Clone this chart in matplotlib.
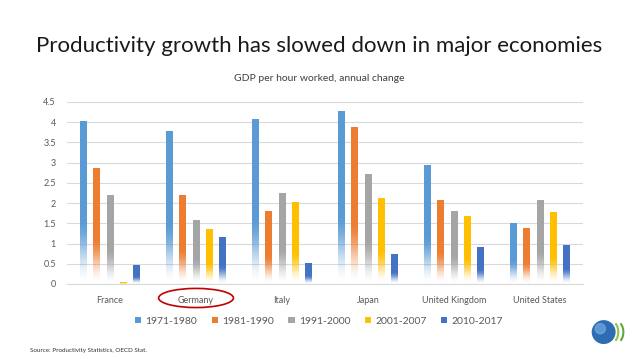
import numpy as np
import matplotlib.pyplot as plt
from matplotlib.patches import Patch, Ellipse, Circle, Arc
from matplotlib.colors import to_rgb
import matplotlib.transforms as mtransforms

plt.rcParams['font.family'] = ['Lato', 'DejaVu Sans']

# data
countries = ['France', 'Germany', 'Italy', 'Japan', 'United Kingdom', 'United States']
periods = ['1971-1980', '1981-1990', '1991-2000', '2001-2007', '2010-2017']
v_1971 = [4.03, 3.78, 4.08, 4.28, 2.93, 1.50]
v_1981 = [2.87, 2.20, 1.80, 3.88, 2.08, 1.38]
v_1991 = [2.20, 1.57, 2.25, 2.73, 1.80, 2.08]
v_2001 = [0.05, 1.37, 2.03, 2.13, 1.68, 1.78]
v_2010 = [0.47, 1.15, 0.53, 0.75, 0.92, 0.97]
series = [v_1971, v_1981, v_1991, v_2001, v_2010]
farben = ['#5B9BD5', '#ED7D31', '#A5A5A5', '#FFC000', '#4472C4']

fig = plt.figure(figsize=(6.38, 3.59), dpi=100)
ax = fig.add_axes([0.105, 0.209, 0.809, 0.507])

x = np.arange(len(countries))
pitch = 0.155
breite = 0.08

def gradient_bar(ax, patch, farbe):
    # Excel-like gradient: solid at top, fading to white at the bottom
    bb = patch.get_bbox()
    n = 200
    rgb = to_rgb(farbe)
    t = np.linspace(0, 1, n)  # 0 = bottom, 1 = top
    s = np.clip(t / 0.4, 0, 1)
    alpha = s * s * (3 - 2 * s)
    img = np.zeros((n, 1, 4))
    img[:, 0, :3] = rgb
    img[:, 0, 3] = alpha
    im = ax.imshow(img, extent=(bb.x0, bb.x1, bb.y0, bb.y1), origin='lower',
                   aspect='auto', interpolation='bilinear', zorder=3)
    im.set_clip_path(patch)

for i, (werte, farbe) in enumerate(zip(series, farben)):
    bars = ax.bar(x + (i - 2) * pitch, werte, width=breite, color='none',
                  edgecolor='none', zorder=3)
    for p in bars.patches:
        gradient_bar(ax, p, farbe)

ax.set_xlim(-0.5, len(countries) - 0.5)
ax.set_ylim(0, 4.5)
ax.set_yticks(np.arange(0, 4.51, 0.5))
ax.set_yticklabels(['0', '0.5', '1', '1.5', '2', '2.5', '3', '3.5', '4', '4.5'])
ax.set_xticks(x)
ax.set_xticklabels(countries)
ax.tick_params(axis='both', length=0, labelsize=6.5, colors='#595959')
ax.tick_params(axis='x', pad=9)
ax.tick_params(axis='y', pad=8)
ax.grid(axis='y', color='#D9D9D9', linewidth=0.8, zorder=0)
for s in ['top', 'right', 'left']:
    ax.spines[s].set_visible(False)
ax.spines['bottom'].set_color('#D9D9D9')
ax.set_axisbelow(True)

# red ellipse around Germany
trans = mtransforms.blended_transform_factory(ax.transData, ax.transAxes)
ax.add_patch(Ellipse((1, -0.077), 0.87, 0.105, transform=trans, fill=False,
                     edgecolor='#C00000', linewidth=1.2, clip_on=False))

handles = [Patch(facecolor=f, edgecolor='none') for f in farben]
fig.legend(handles, periods, loc='center', bbox_to_anchor=(0.5, 0.105), ncol=5,
           frameon=False, fontsize=7.5, handlelength=0.6, handleheight=0.6,
           handletextpad=0.4, columnspacing=1.4, labelcolor='#595959')

fig.text(0.5, 0.872, 'Productivity growth has slowed down in major economies',
         ha='center', va='center', fontsize=16, color='#1a1a1a')
fig.text(0.5, 0.782, 'GDP per hour worked, annual change', ha='center', va='center',
         fontsize=7.5, color='#404040')
fig.text(0.047, 0.025, 'Source: Productivity Statistics, OECD Stat.', ha='left',
         va='center', fontsize=4.5, color='#333333')

# small OECD-like logo
lax = fig.add_axes([0.925, 0.03, 0.06, 0.09])
lax.set_xlim(-1.2, 2.2)
lax.set_ylim(-1.2, 1.2)
lax.set_aspect('equal')
lax.axis('off')
lax.add_patch(Circle((0, 0), 1, color='#2E6DB4'))
lax.add_patch(Circle((-0.3, 0.3), 0.45, color='#7FB2E5', alpha=0.6))
for k, c in enumerate(['#8DC63F', '#5FA83A']):
    lax.add_patch(Arc((0.6 + 0.45 * k, 0), 1.4, 2.0, theta1=-60, theta2=60,
                      color=c, linewidth=1.5))

fig.savefig('out.png', dpi=100)
